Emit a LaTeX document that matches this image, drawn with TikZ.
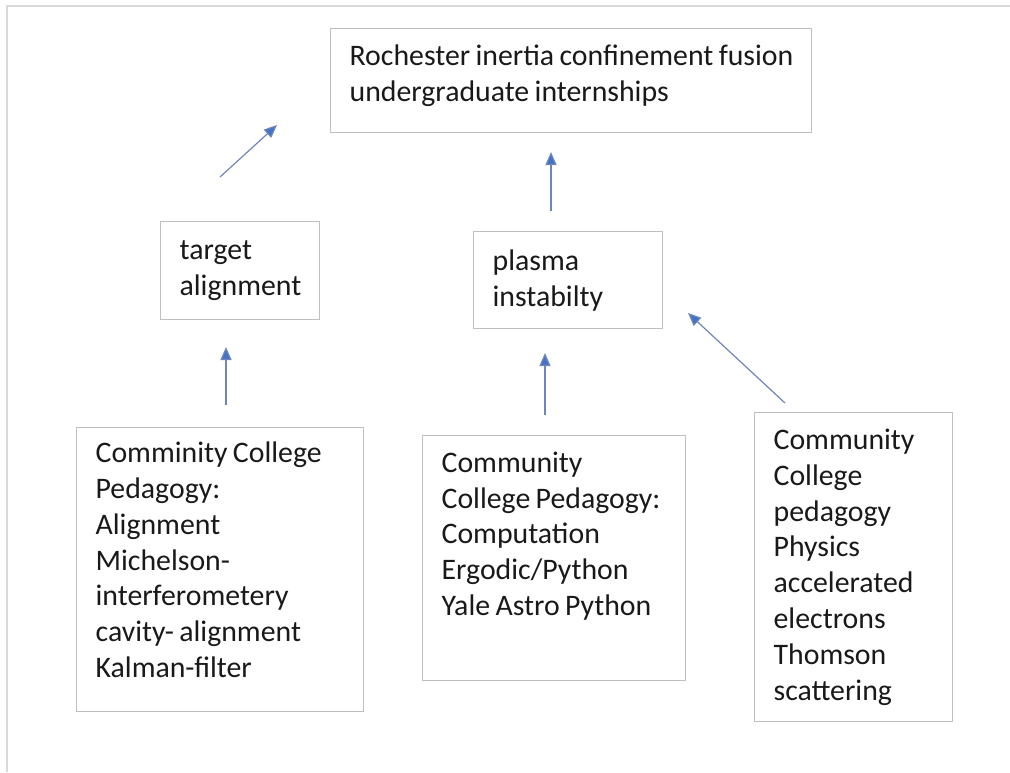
\documentclass[tikz,border=0pt]{standalone}
\usepackage{fontspec}
\setmainfont{Carlito}[WordSpace={0.8,0,0}]
\usetikzlibrary{arrows.meta}
\definecolor{arrowblue}{RGB}{68,114,196}
\definecolor{linkgray}{RGB}{112,134,186}
\definecolor{boxgray}{RGB}{191,191,191}
\definecolor{framegray}{RGB}{217,217,217}

\begin{document}
\begin{tikzpicture}[x=1pt, y=-1pt,
          box/.style={draw=boxgray, line width=1.3pt, anchor=north west, align=flush left,
            inner xsep=19pt, inner ysep=0pt, text=black!90,
            font=\fontsize{29.8}{35.8}\selectfont},
          arrow/.style={-{Triangle[length=13pt, width=11pt, fill=arrowblue]},
            draw=linkgray, line width=1.2pt}
        ]
          \useasboundingbox (0,0) rectangle (1010,772);

          % page frame
          \draw[framegray, line width=1.8pt] (7,772) -- (7,6) -- (1010,6);

          % goal
          \node[box, text width=443pt, minimum height=104pt] (rochester) at (330,28)
            {\mbox{Rochester inertia confinement fusion}\\undergraduate internships\rule[-15pt]{0pt}{0pt}};

          % middle level
          \node[box, text width=121pt, minimum height=98pt] (target) at (160,221)
            {target\\alignment};
          \node[box, text width=151pt, minimum height=97pt] (plasma) at (473,231)
            {plasma\\instabilty};

          % community college topics
          \node[box, text width=249pt, minimum height=284pt] (optics) at (76,427)
            {Comminity College\\Pedagogy:\\Alignment\\Michelson-\\interferometery\\cavity- alignment\\Kalman-filter\rule[-20pt]{0pt}{0pt}};
          \node[box, text width=225pt, minimum height=245pt] (python) at (422,435)
            {Community\\College Pedagogy:\\Computation\\Ergodic/Python\\Yale Astro Python\rule[-49pt]{0pt}{0pt}};
          \node[box, text width=160pt, minimum height=309pt] (thomson) at (754,412)
            {Community\\College\\pedagogy\\Physics\\accelerated\\electrons\\Thomson\\scattering};

          % arrow ends
          \coordinate (target-out) at (220,177);
          \coordinate (rochester-in1) at (277,125);
          \coordinate (plasma-out) at (551,211);
          \coordinate (rochester-in2) at (551,152);
          \coordinate (optics-out) at (226,405);
          \coordinate (target-in) at (226,347);
          \coordinate (python-out) at (545,415);
          \coordinate (plasma-in1) at (545,353);
          \coordinate (thomson-out) at (785,403);
          \coordinate (plasma-in2) at (688,313);

          % arrows
          \draw[arrow] (target-out) -- (rochester-in1);
          \draw[arrow] (plasma-out) -- (rochester-in2);
          \draw[arrow] (optics-out) -- (target-in);
          \draw[arrow] (python-out) -- (plasma-in1);
          \draw[arrow] (thomson-out) -- (plasma-in2);
\end{tikzpicture}
\end{document}
